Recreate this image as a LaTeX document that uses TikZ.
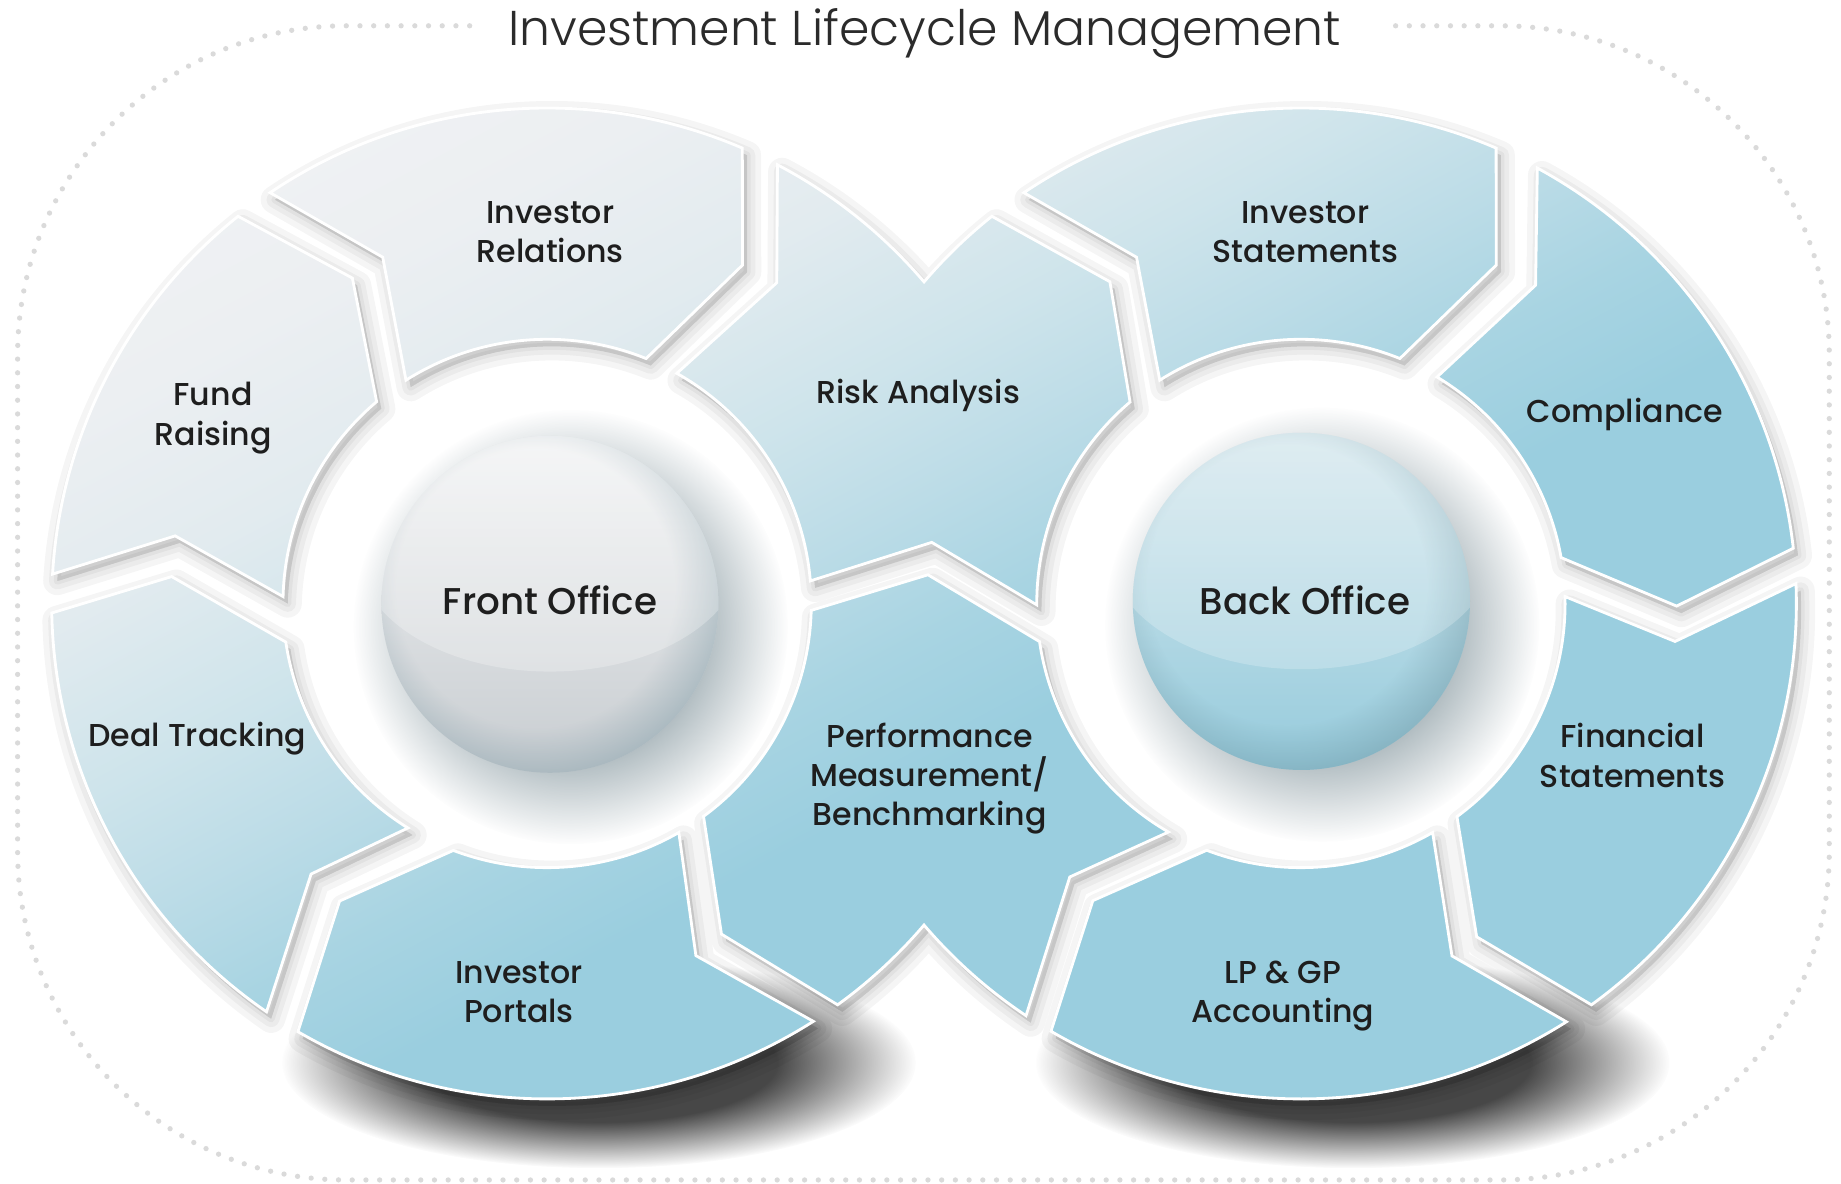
\documentclass[tikz,border=0pt]{standalone}
\usepackage{fontspec}
\setmainfont{Poppins}
\IfFontExistsTF{Poppins Light}{\newfontfamily\titlefont{Poppins Light}}{\newfontfamily\titlefont{Poppins}}
\IfFontExistsTF{Poppins Medium}{\newfontfamily\labelfont{Poppins Medium}}{\newfontfamily\labelfont{Poppins}}
\usetikzlibrary{fadings}

\definecolor{sg0}{HTML}{EFF1F3}
\definecolor{sg1}{HTML}{ECEFF2}
\definecolor{sg2}{HTML}{E2EBEF}
\definecolor{sg3}{HTML}{CEE4EB}
\definecolor{sg4}{HTML}{BCDCE7}
\definecolor{sg5}{HTML}{A8D4E2}
\definecolor{sg6}{HTML}{9ACEDF}
\definecolor{txt}{HTML}{1E1E1E}
\definecolor{ttl}{HTML}{2B2B2B}
\definecolor{dotc}{HTML}{DADADA}
\definecolor{foT}{HTML}{F2F3F4}
\definecolor{foB}{HTML}{C8CDD1}
\definecolor{foRim}{HTML}{8AA3AD}
\definecolor{boT}{HTML}{D6E8EE}
\definecolor{boB}{HTML}{96CBDC}
\definecolor{boRim}{HTML}{6E939F}
\definecolor{sphsh}{HTML}{4A6570}
\definecolor{fdO}{gray}{1}
\definecolor{fdT}{gray}{0}

\pgfdeclareverticalshading{segshade}{100bp}{color(0bp)=(sg6); color(46bp)=(sg6); color(49bp)=(sg5); color(52bp)=(sg4); color(55bp)=(sg3); color(59bp)=(sg2); color(63bp)=(sg1); color(66bp)=(sg0); color(100bp)=(sg0)}
\pgfdeclareradialshading{softsh}{\pgfpointorigin}{color(0bp)=(fdO); color(14bp)=(fdO); color(25bp)=(fdT); color(50bp)=(fdT)}
\pgfdeclarefading{softfade}{\pgfuseshading{softsh}}
\pgfdeclareradialshading{rimsh}{\pgfpointorigin}{color(0bp)=(fdT); color(18bp)=(fdT); color(25bp)=(fdO); color(50bp)=(fdO)}
\pgfdeclarefading{rimfade}{\pgfuseshading{rimsh}}

% segment outlines (centres: L=(466,494), R=(1108,494))
\newcommand\pIR{([cL]124:422) arc[start angle=124,end angle=66.8,radius=422] -- ([cL]60:332.8) -- ([cL]68:225) arc[start angle=68,end angle=122.3,radius=225] -- ([cL]115.4:326.5) -- cycle}
\newcommand\pFR{([cL]176.6:422) arc[start angle=176.6,end angle=128.6,radius=422] -- ([cL]120.9:323) -- ([cL]130.2:225) arc[start angle=130.2,end angle=178.5,radius=225] -- ([cL]169.7:322) -- cycle}
\newcommand\pDT{([cL]235.5:422) arc[start angle=235.5,end angle=181.1,radius=422] -- ([cL]175.9:320.6) -- ([cL]188.4:225) arc[start angle=188.4,end angle=238.2,radius=225] -- ([cL]228.9:305.8) -- cycle}
\newcommand\pIP{([cL]302.5:422) arc[start angle=302.5,end angle=239.8,radius=422] -- ([cL]235.1:309) -- ([cL]249.2:225) arc[start angle=249.2,end angle=299.9,radius=225] -- ([cL]292.9:325.6) -- cycle}
\newcommand\pRA{([cL]62.3:422) arc[start angle=62.3,end angle=40.47,radius=422] arc[start angle=139.53,end angle=128.6,radius=422] -- ([cR]120.7:318.7) -- ([cR]130.3:225) arc[start angle=130.3,end angle=180.3,radius=225] -- ([cR]170.6:318.7) -- ([cL]4.9:225) arc[start angle=4.9,end angle=60.6,radius=225] -- ([cL]54.4:336) -- cycle}
\newcommand\pPM{([cL]-1.5:225) -- ([cR]175.6:318.6) -- ([cR]188.3:225) arc[start angle=188.3,end angle=239.9,radius=225] -- ([cR]229.8:305) -- ([cR]236.3:422) arc[start angle=236.3,end angle=220.47,radius=422] arc[start angle=319.53,end angle=305.9,radius=422] -- ([cL]297.8:318.4) -- ([cL]306.3:225) arc[start angle=306.3,end angle=358.5,radius=225] -- cycle}
\newcommand\pIS{([cR]124:422) arc[start angle=124,end angle=66.8,radius=422] -- ([cR]60:332.8) -- ([cR]68:225) arc[start angle=68,end angle=122.3,radius=225] -- ([cR]115.4:326.5) -- cycle}
\newcommand\pCO{([cR]61.5:422) arc[start angle=61.5,end angle=6.4,radius=422] -- ([cR]-0.4:320) -- ([cR]10:225) arc[start angle=10,end angle=59,radius=225] -- ([cR]53.6:336.8) -- cycle}
\newcommand\pFS{([cR]2.3:422) arc[start angle=2.3,end angle=-54.1,radius=422] -- ([cR]-62.2:321) -- ([cR]-53.8:225) arc[start angle=-53.8,end angle=1.5,radius=225] -- ([cR]-5.8:320.3) -- cycle}
\newcommand\pLP{([cR]-57.6:422) arc[start angle=-57.6,end angle=-120.3,radius=422] -- ([cR]-125:309) -- ([cR]-110.9:225) arc[start angle=-110.9,end angle=-60.1,radius=225] -- ([cR]-66.8:326.6) -- cycle}
\newcommand\allsegs{\pIR \pFR \pDT \pIP \pRA \pPM \pIS \pCO \pFS \pLP}

\begin{document}
\begin{tikzpicture}[x=0.1174mm,y=0.1174mm,
  cL/.style={shift={(466,494)}},
  cR/.style={shift={(1108,494)}},
  dotframe/.style={draw=dotc, line width=1.5pt, line cap=round, dash pattern=on 0pt off 3.9pt},
  segshadow/.style={black, opacity=0.04, line join=round},
  lbl/.style={font=\labelfont\fontsize{9}{11.2}\selectfont, align=center, inner sep=0pt, text=txt},
  head/.style={font=\labelfont\fontsize{10.6}{12}\selectfont, inner sep=0pt, text=txt, anchor=base}]
\useasboundingbox (0,0) rectangle (1568,1008);
\fill[white] (0,0) rectangle (1568,1008);

% dotted frame
\draw[dotframe] (400,986) -- (295,986) arc[start angle=90,end angle=180,radius=280]
  -- (15,283) arc[start angle=180,end angle=270,radius=280]
  -- (1278,3) arc[start angle=270,end angle=360,radius=280]
  -- (1558,706) arc[start angle=0,end angle=90,radius=280] -- (1182,986);

% ground shadows
\fill[black, fill opacity=0.72, path fading=softfade] (510,103) ellipse[x radius=270, y radius=90];
\fill[black, fill opacity=0.72, path fading=softfade] (1152,103) ellipse[x radius=270, y radius=90];

% segment shadows
\begin{scope}[shift={(4,-6)}]
  \filldraw[segshadow, line width=8pt] \allsegs;
  \filldraw[segshadow, line width=4.7pt] \allsegs;
  \filldraw[segshadow, line width=2pt] \allsegs;
\end{scope}

% segments with common gradient
\begin{scope}
  \clip \allsegs;
  \shade[shading=segshade, shading angle=28] (-116,-396) rectangle (1684,1404);
\end{scope}
\draw[white, line width=0.8pt] \allsegs;

% sphere shadows
\fill[sphsh, fill opacity=0.5, path fading=softfade] (486,474) circle[radius=185];
\fill[sphsh, fill opacity=0.5, path fading=softfade] (1126,476) circle[radius=185];

% Front Office sphere
\shade[top color=foT, bottom color=foB] (468.4,493.3) circle[radius=143.5];
\begin{scope}
  \clip (468.4,493.3) circle[radius=143.5];
  \fill[foRim, fill opacity=0.55, path fading=rimfade] (456,507) circle[radius=165];
  \fill[white, fill opacity=0.25] (468.4,538) ellipse[x radius=164, y radius=102];
\end{scope}

% Back Office sphere
\shade[top color=boT, bottom color=boB] (1108.4,495.8) circle[radius=143.6];
\begin{scope}
  \clip (1108.4,495.8) circle[radius=143.6];
  \fill[boRim, fill opacity=0.45, path fading=rimfade] (1096,510) circle[radius=165];
  \fill[white, fill opacity=0.22] (1108.4,540) ellipse[x radius=164, y radius=102];
\end{scope}

% labels
\node[lbl, anchor=north] (ir) at (468.75,837) {Investor\\Relations};
\node[lbl, anchor=north] (fr) at (181.5,683) {Fund\\Raising};
\node[lbl, anchor=base] (dt) at (168,372.6) {Deal Tracking};
\node[lbl, anchor=north] (ip) at (442,190) {Investor\\Portals};
\node[lbl, anchor=base] (ra) at (782,664.5) {Risk Analysis};
\node[lbl, anchor=north] (pm) at (791.7,393) {Performance\\Measurement/\\Benchmarking};
\node[lbl, anchor=north] (is) at (1111.8,837) {Investor\\Statements};
\node[lbl, anchor=base] (co) at (1384,647.8) {Compliance};
\node[lbl, anchor=north] (fs) at (1390.4,392.5) {Financial\\Statements};
\node[lbl, anchor=north] (lp) at (1092.5,190) {LP \& GP\\Accounting};
\node[head] (fo) at (468.4,484.2) {Front Office};
\node[head] (bo) at (1111.5,484.2) {Back Office};

% title
\node[font=\titlefont\fontsize{13.9}{17}\selectfont, text=ttl, anchor=base, inner sep=0pt] (title) at (787.6,969) {Investment Lifecycle Management};
\end{tikzpicture}
\end{document}
